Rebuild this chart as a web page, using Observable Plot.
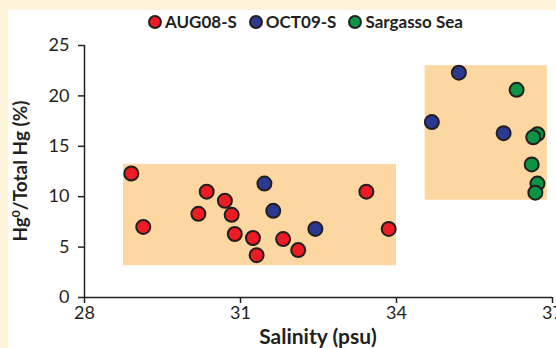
<!DOCTYPE html>
<html>
<head>
<meta charset="utf-8">
<script src="https://cdn.jsdelivr.net/npm/d3@7"></script>
<script src="https://cdn.jsdelivr.net/npm/@observablehq/plot@0.6"></script>
<style>
  html, body { margin: 0; padding: 0; }
  body { width: 556px; height: 348px; background: #fef3d8; position: relative; overflow: hidden; font-family: Lato, "Open Sans", sans-serif; }
  #paper { position: absolute; left: 8px; top: 10px; right: 0; bottom: 0; background: #ffffff; }
  #chart { position: absolute; left: 0; top: 0; }
  #legend { position: absolute; left: 148px; top: 11px; display: flex; align-items: center; gap: 12px; font-weight: bold; font-size: 17px; color: #231f20; }
  #legend .item { display: flex; align-items: center; gap: 3px; }
  #legend .sw { width: 14px; height: 14px; border-radius: 50%; border: 2px solid #231f20; box-sizing: border-box; }
</style>
</head>
<body>
<div id="paper"></div>
<div id="chart"></div>
<div id="legend"></div>
<script>
// ---- data ----
const seriesNames = ["AUG08-S", "OCT09-S", "Sargasso Sea"];
const seriesColors = ["#ed1c24", "#2b3990", "#0a9444"];

const augSalinity = [28.90, 29.13, 30.35, 30.19, 30.70, 30.83, 30.89, 31.24, 31.31, 31.82, 32.11, 33.42, 33.85];
const augHg       = [12.3, 7.0, 10.5, 8.3, 9.6, 8.2, 6.3, 5.9, 4.2, 5.8, 4.7, 10.5, 6.8];

const octSalinity = [31.46, 31.63, 32.44, 35.20, 34.68, 36.06];
const octHg       = [11.3, 8.6, 6.8, 22.3, 17.4, 16.3];

const sarSalinity = [36.31, 36.71, 36.63, 36.60, 36.71, 36.67];
const sarHg       = [20.6, 16.2, 15.9, 13.2, 11.3, 10.4];

const boxSalMin = [28.75, 34.55];
const boxSalMax = [34.0, 36.9];
const boxHgMin  = [3.15, 9.65];
const boxHgMax  = [13.2, 23.0];

const xTicks = [28, 31, 34, 37];
const yTicks = [0, 5, 10, 15, 20, 25];
const xTitle = "Salinity (psu)";

// ---- tables built from the arrays ----
const points = [
  ...augSalinity.map((s, i) => ({sal: s, hg: augHg[i], series: seriesNames[0]})),
  ...octSalinity.map((s, i) => ({sal: s, hg: octHg[i], series: seriesNames[1]})),
  ...sarSalinity.map((s, i) => ({sal: s, hg: sarHg[i], series: seriesNames[2]}))
];
const boxes = boxSalMin.map((v, i) => ({x1: v, x2: boxSalMax[i], y1: boxHgMin[i], y2: boxHgMax[i]}));

const ink = "#231f20";

const plot = Plot.plot({
  width: 556,
  height: 348,
  marginLeft: 84,
  marginRight: 4,
  marginTop: 45,
  marginBottom: 51,
  style: {background: "transparent", fontFamily: "Lato, 'Open Sans', sans-serif", fontSize: "18px", color: ink, overflow: "visible"},
  x: {domain: [28, 37]},
  y: {domain: [0, 25]},
  color: {domain: seriesNames, range: seriesColors},
  marks: [
    Plot.rect(boxes, {x1: "x1", x2: "x2", y1: "y1", y2: "y2", fill: "#fdd7a1"}),
    Plot.ruleX([28], {stroke: ink, strokeWidth: 1.5}),
    Plot.ruleY([0], {stroke: ink, strokeWidth: 1.5}),
    Plot.axisX({ticks: xTicks, tickSize: 6, tickPadding: 3, label: null, stroke: ink, strokeWidth: 1.5, fill: ink, fontSize: 18}),
    Plot.axisY({ticks: yTicks, tickSize: 6, tickPadding: 9, label: null, stroke: ink, strokeWidth: 1.5, fill: ink, fontSize: 18}),
    Plot.dot(points, {x: "sal", y: "hg", fill: "series", r: 7, stroke: ink, strokeWidth: 2})
  ]
});
document.getElementById("chart").appendChild(plot);

// axis titles
const svg = d3.select(plot);
const yt = svg.append("text")
  .attr("transform", "translate(20,171) rotate(-90)")
  .attr("text-anchor", "middle")
  .attr("dy", "0.35em")
  .attr("font-weight", "bold")
  .attr("font-size", 19)
  .attr("fill", ink);
yt.append("tspan").text("Hg");
yt.append("tspan").attr("font-size", 12).attr("dy", "-0.55em").text("0");
yt.append("tspan").attr("dy", "0.35em").text("/Total Hg (%)");

svg.append("text")
  .attr("x", 318)
  .attr("y", 344)
  .attr("text-anchor", "middle")
  .attr("font-weight", "bold")
  .attr("font-size", 21)
  .attr("fill", ink)
  .text(xTitle);

// legend
const legend = d3.select("#legend");
seriesNames.forEach((name, i) => {
  const item = legend.append("div").attr("class", "item");
  item.append("div").attr("class", "sw").style("background", seriesColors[i]);
  item.append("span").text(name);
});
</script>
</body>
</html>
